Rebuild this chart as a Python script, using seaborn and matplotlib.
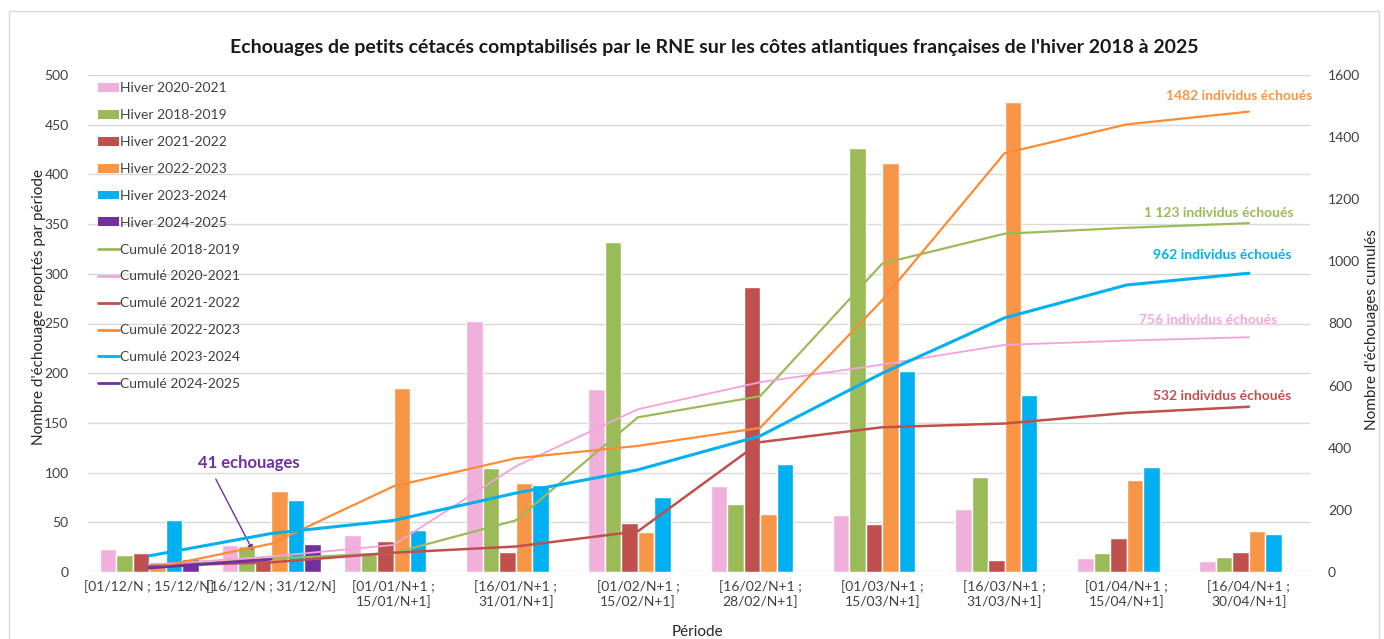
import numpy as np
import pandas as pd
import matplotlib.pyplot as plt
import seaborn as sns
from matplotlib.patches import Patch, Rectangle
from matplotlib.lines import Line2D

# Data
periods = ["[01/12/N ; 15/12/N]", "[16/12/N ; 31/12/N]",
           "[01/01/N+1 ;\n15/01/N+1]", "[16/01/N+1 ;\n31/01/N+1]",
           "[01/02/N+1 ;\n15/02/N+1]", "[16/02/N+1 ;\n28/02/N+1]",
           "[01/03/N+1 ;\n15/03/N+1]", "[16/03/N+1 ;\n31/03/N+1]",
           "[01/04/N+1 ;\n15/04/N+1]", "[16/04/N+1 ;\n30/04/N+1]"]

winters = ["Hiver 2020-2021", "Hiver 2018-2019", "Hiver 2021-2022",
           "Hiver 2022-2023", "Hiver 2023-2024", "Hiver 2024-2025"]

hiver_2020_2021 = [23, 27, 37, 253, 184, 87, 57, 63, 14, 11]
hiver_2018_2019 = [17, 26, 18, 105, 332, 68, 427, 96, 19, 15]
hiver_2021_2022 = [19, 12, 31, 20, 49, 287, 48, 12, 34, 20]
hiver_2022_2023 = [10, 81, 185, 90, 40, 58, 411, 473, 93, 41]
hiver_2023_2024 = [52, 72, 42, 88, 75, 109, 202, 178, 106, 38]
hiver_2024_2025 = [13, 28]

bar_colors = {"Hiver 2020-2021": "#F1B0DC", "Hiver 2018-2019": "#9BBB59",
              "Hiver 2021-2022": "#C0504D", "Hiver 2022-2023": "#F79646",
              "Hiver 2023-2024": "#00B0F0", "Hiver 2024-2025": "#7030A0"}

series = {"Hiver 2020-2021": hiver_2020_2021, "Hiver 2018-2019": hiver_2018_2019,
          "Hiver 2021-2022": hiver_2021_2022, "Hiver 2022-2023": hiver_2022_2023,
          "Hiver 2023-2024": hiver_2023_2024, "Hiver 2024-2025": hiver_2024_2025}

# cumulative lines (legend order), colour, width
cum_order = ["2018-2019", "2020-2021", "2021-2022", "2022-2023", "2023-2024", "2024-2025"]
line_colors = {"2018-2019": "#9BBB59", "2020-2021": "#F4A3DA", "2021-2022": "#C0504D",
               "2022-2023": "#FB8C34", "2023-2024": "#00B0F0", "2024-2025": "#7030A0"}
line_widths = {"2018-2019": 1.6, "2020-2021": 1.3, "2021-2022": 1.8,
               "2022-2023": 1.6, "2023-2024": 2.2, "2024-2025": 2.0}

rows = []
for w, vals in series.items():
    for p, v in zip(periods, vals):
        rows.append({"periode": p, "hiver": w, "n": v})
df = pd.DataFrame(rows)

sns.set_style("white")
plt.rcParams['font.family'] = ['Lato', 'DejaVu Sans']

fig = plt.figure(figsize=(13.84, 6.39), dpi=100)
ax = fig.add_axes([88 / 1384, 67 / 639, 1222 / 1384, 497 / 639])

sns.barplot(data=df, x="periode", y="n", hue="hiver", order=periods, hue_order=winters,
            palette=bar_colors, saturation=1, width=0.81, errorbar=None, legend=False, ax=ax)

ax.set_ylim(0, 500)
ax.set_yticks(range(0, 501, 50))
ax.yaxis.grid(True, color="#d9d9d9", lw=1)
ax.set_axisbelow(True)
for s in ax.spines.values():
    s.set_visible(False)
ax.tick_params(axis="both", length=0, labelsize=10, colors="#404040")
ax.tick_params(axis="y", pad=14)
ax.tick_params(axis="x", pad=6)
ax.set_xlabel("Période", fontsize=11, color="#262626")
ax.xaxis.set_label_coords(0.499, -0.121)
ax.xaxis.label.set_va("center")
ax.set_ylabel("Nombre d'échouage reportés par période", fontsize=11, color="#262626")
ax.yaxis.set_label_coords(-0.040, 0.533)
ax.yaxis.label.set_va("center")

ax2 = ax.twinx()
for key in cum_order:
    vals = series["Hiver " + key]
    cum = np.cumsum(vals)
    sns.lineplot(x=np.arange(len(cum)), y=cum, ax=ax2, color=line_colors[key],
                 lw=line_widths[key], legend=False)
ax2.set_ylim(0, 1600)
ax2.set_yticks(range(0, 1601, 200))
ax2.grid(False)
for s in ax2.spines.values():
    s.set_visible(False)
ax2.tick_params(axis="y", length=0, labelsize=10, colors="#404040", pad=13)
ax2.set_ylabel("Nombre d'échouages cumulés", fontsize=11, color="#262626")
ax2.yaxis.set_label_coords(1.051, 0.487)
ax2.yaxis.label.set_va("center")
ax.set_xlim(-0.5, 9.5)

# totals at the end of each cumulative line
totals = [("1482 individus échoués", 9.52, 1532, "#F79646"),
          ("1 123 individus échoués", 9.37, 1156, "#9BBB59"),
          ("962 individus échoués", 9.35, 1021, "#00B0F0"),
          ("756 individus échoués", 9.23, 811, "#F4A6DC"),
          ("532 individus échoués", 9.35, 567, "#C0504D")]
for txt, x, y, c in totals:
    ax2.text(x, y, txt, ha="right", va="center", color=c, fontsize=10, fontweight="bold")

# 41 echouages annotation
ax.text(0.82, 110, "41 echouages", ha="center", va="center", color="#7030A0",
        fontsize=12, fontweight="bold")
ax.annotate("", xy=(0.86, 19), xytext=(0.535, 96),
            arrowprops=dict(arrowstyle="-|>", color="#7030A0", lw=1, mutation_scale=8))

# legend
handles = [Patch(facecolor=bar_colors[w], edgecolor="none") for w in winters]
labels = list(winters)
for key in cum_order:
    handles.append(Line2D([], [], color=line_colors[key], lw=2))
    labels.append("Cumulé " + key)
leg = ax2.legend(handles, labels, loc="upper left", bbox_to_anchor=(0.008, 0.985),
                 frameon=False, fontsize=10, labelspacing=1.07, handlelength=1.5,
                 handleheight=0.6, handletextpad=0.1, borderpad=0, borderaxespad=0)
for t in leg.get_texts():
    t.set_color("#404040")

fig.text(714 / 1384, 1 - 48 / 639,
         "Echouages de petits cétacés comptabilisés par le RNE sur les côtes atlantiques françaises de l'hiver 2018 à 2025",
         ha="center", va="center", fontsize=14, fontweight="bold", color="#1a1a1a")

fig.patches.append(Rectangle((9 / 1384, -0.01), 1370 / 1384, 1 - 11 / 639 + 0.01,
                             transform=fig.transFigure, fill=False, edgecolor="#d9d9d9", lw=1))

fig.savefig("out.png", dpi=100)
